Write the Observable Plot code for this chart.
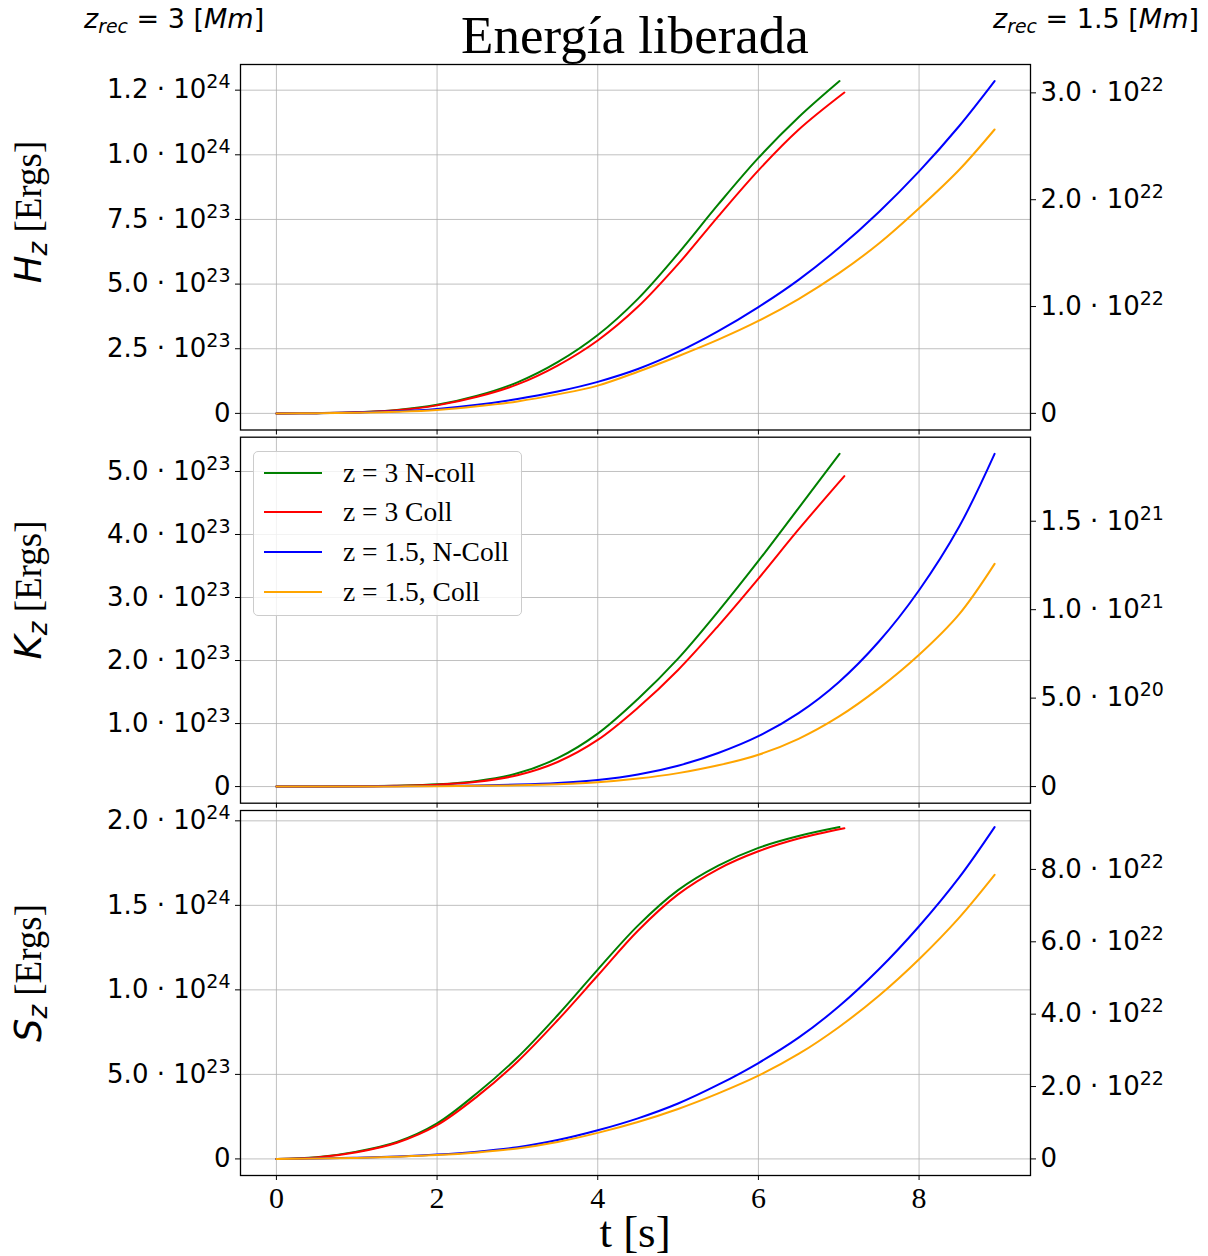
<!DOCTYPE html>
<html>
<head>
<meta charset="utf-8">
<script src="https://cdn.jsdelivr.net/npm/d3@7"></script>
<script src="https://cdn.jsdelivr.net/npm/@observablehq/plot@0.6"></script>
<style>
  body { margin: 0; background: #fff; }
  #root { position: relative; width: 1208px; height: 1256px; overflow: hidden; background: #fff; }
  #root > svg { position: absolute; left: 0; top: 0; }
  .txt { position: absolute; white-space: nowrap; line-height: 1; color: #000; }
  .serif { font-family: "Liberation Serif", "Times New Roman", serif; }
  .sans { font-family: "DejaVu Sans", sans-serif; }
  .ylab { transform: translate(-50%, -50%) rotate(-90deg); }
  #legend { position: absolute; left: 253px; top: 451px; width: 269px; height: 165px;
    border: 1px solid #cccccc; border-radius: 5px; background: rgba(255,255,255,0.8); box-sizing: border-box; }
  .lrow { position: absolute; left: 0; height: 0; }
  .lrow .sw { position: absolute; left: 10px; width: 58px; height: 2px; top: -1px; }
  .lrow .lt { position: absolute; left: 89px; top: -15px; font-family: "Liberation Serif", serif; font-size: 27.5px; line-height: 30px; white-space: nowrap; }
</style>
</head>
<body>
<div id="root"></div>
<script>
// ---------- data ----------
const seriesNames = ["z = 3 N-coll", "z = 3 Coll", "z = 1.5, N-Coll", "z = 1.5, Coll"];
const seriesColors = ["#008000", "#ff0000", "#0000ff", "#ffa500"];

const tGreen = [0, 0.5, 1, 1.5, 2, 2.5, 3, 3.5, 4, 4.5, 5, 5.5, 6, 6.5, 7.01];
const tRed   = [0, 0.5, 1, 1.5, 2, 2.5, 3, 3.5, 4, 4.5, 5, 5.5, 6, 6.5, 7.07];
const tBlue  = [0, 0.5, 1, 1.5, 2, 2.5, 3, 3.5, 4, 4.5, 5, 5.5, 6, 6.5, 7, 7.5, 8, 8.5, 8.94];

// H_z : z=3 in 1e24 erg (left axis), z=1.5 in 1e22 erg (right axis)
const hGreen  = [0, 0.001, 0.004, 0.013, 0.033, 0.068, 0.12, 0.198, 0.303, 0.443, 0.618, 0.808, 0.988, 1.145, 1.285];
const hRed    = [0, 0.001, 0.004, 0.012, 0.031, 0.064, 0.112, 0.185, 0.282, 0.412, 0.577, 0.762, 0.94, 1.097, 1.241];
const hBlue   = [0, 0.002, 0.008, 0.019, 0.041, 0.08, 0.135, 0.205, 0.295, 0.415, 0.575, 0.77, 0.995, 1.25, 1.547, 1.885, 2.265, 2.69, 3.11];
const hOrange = [0, 0.0015, 0.006, 0.015, 0.032, 0.066, 0.112, 0.178, 0.26, 0.39, 0.535, 0.69, 0.865, 1.07, 1.31, 1.59, 1.92, 2.28, 2.657];

// K_z : z=3 in 1e23 erg (left), z=1.5 in 1e21 erg (right)
const kGreen  = [0, 0.001, 0.005, 0.014, 0.035, 0.09, 0.21, 0.45, 0.84, 1.39, 2.03, 2.78, 3.58, 4.42, 5.28];
const kRed    = [0, 0.001, 0.004, 0.012, 0.03, 0.075, 0.18, 0.39, 0.74, 1.25, 1.85, 2.55, 3.30, 4.08, 4.926];
const kBlue   = [0, 0.0002, 0.0005, 0.0015, 0.003, 0.006, 0.011, 0.02, 0.037, 0.068, 0.118, 0.19, 0.285, 0.415, 0.59, 0.82, 1.11, 1.47, 1.881];
const kOrange = [0, 0.0001, 0.0003, 0.001, 0.002, 0.004, 0.007, 0.013, 0.024, 0.045, 0.076, 0.12, 0.18, 0.27, 0.395, 0.555, 0.745, 0.975, 1.259];

// S_z : z=3 in 1e24 erg (left), z=1.5 in 1e22 erg (right)
const sGreen  = [0, 0.01, 0.043, 0.10, 0.21, 0.39, 0.6, 0.85, 1.12, 1.38, 1.59, 1.735, 1.84, 1.91, 1.963];
const sRed    = [0, 0.009, 0.04, 0.096, 0.2, 0.37, 0.575, 0.82, 1.085, 1.35, 1.565, 1.715, 1.82, 1.895, 1.956];
const sBlue   = [0, 0.01, 0.033, 0.068, 0.12, 0.20, 0.32, 0.52, 0.79, 1.12, 1.53, 2.05, 2.65, 3.35, 4.21, 5.24, 6.43, 7.78, 9.17];
const sOrange = [0, 0.008, 0.028, 0.06, 0.105, 0.18, 0.29, 0.47, 0.72, 1.02, 1.38, 1.81, 2.30, 2.90, 3.64, 4.51, 5.52, 6.67, 7.85];

// ticks
const xTicks = [0, 2, 4, 6, 8];
const xTickLabels = ["0", "2", "4", "6", "8"];

const hLeftTicks  = [0, 0.25, 0.5, 0.75, 1.0, 1.25];       // x1e24
const hLeftLabels = ["0", "2.5 · 10²³", "5.0 · 10²³", "7.5 · 10²³", "1.0 · 10²⁴", "1.2 · 10²⁴"];
const hRightTicks  = [0, 1, 2, 3];                           // x1e22
const hRightLabels = ["0", "1.0 · 10²²", "2.0 · 10²²", "3.0 · 10²²"];

const kLeftTicks  = [0, 1, 2, 3, 4, 5];                      // x1e23
const kLeftLabels = ["0", "1.0 · 10²³", "2.0 · 10²³", "3.0 · 10²³", "4.0 · 10²³", "5.0 · 10²³"];
const kRightTicks  = [0, 0.5, 1.0, 1.5];                     // x1e21
const kRightLabels = ["0", "5.0 · 10²⁰", "1.0 · 10²¹", "1.5 · 10²¹"];

const sLeftTicks  = [0, 0.5, 1.0, 1.5, 2.0];                 // x1e24
const sLeftLabels = ["0", "5.0 · 10²³", "1.0 · 10²⁴", "1.5 · 10²⁴", "2.0 · 10²⁴"];
const sRightTicks  = [0, 2, 4, 6, 8];                        // x1e22
const sRightLabels = ["0", "2.0 · 10²²", "4.0 · 10²²", "6.0 · 10²²", "8.0 · 10²²"];

// ---------- drawing ----------
const W = 1208, H = 1256;
const root = document.getElementById("root");
const allT = [...tGreen, ...tRed, ...tBlue];
const tMin = d3.min(allT), tMax = d3.max(allT);
const tPad = 0.05 * (tMax - tMin);
const gridStyle = {stroke: "#b0b0b0", strokeOpacity: 1, strokeWidth: 0.8};
const tickFont = {fontSize: 26, fontFamily: "DejaVu Sans", fill: "black"};
const SUP = {"⁰": "0", "¹": "1", "²": "2", "³": "3", "⁴": "4", "⁵": "5", "⁶": "6", "⁷": "7", "⁸": "8", "⁹": "9"};
const NS = "http://www.w3.org/2000/svg";

function rows(t, v, k = 1) { return t.map((x, i) => ({t: x, v: v[i] * k})); }

// turn trailing unicode superscripts into a raised, smaller tspan (like mathtext)
function raiseExponents(svg) {
  svg.querySelectorAll("text").forEach(el => {
    const s = el.textContent;
    const m = s.match(/^(.*?)([⁰¹²³⁴⁵⁶⁷⁸⁹]+)$/);
    if (!m) return;
    el.textContent = "";
    const a = document.createElementNS(NS, "tspan");
    a.textContent = m[1];
    const b = document.createElementNS(NS, "tspan");
    b.textContent = [...m[2]].map(c => SUP[c]).join("");
    b.setAttribute("font-size", "19");
    b.setAttribute("dy", "-10");
    el.appendChild(a);
    el.appendChild(b);
  });
}

function panel({frameTop, frameBottom, left, right, lt, ll, rt, rl, showX}) {
  const M1 = d3.max(left.flatMap(s => s.v));
  const M2 = d3.max(right.flatMap(s => s.v));
  const k = M1 / M2;                       // right units -> left units (twin axis)
  const rtScaled = rt.map(v => v * k);
  const marks = [
    Plot.gridX(xTicks, gridStyle),
    Plot.gridY(lt, gridStyle),
    ...left.map(s => Plot.line(rows(s.t, s.v), {x: "t", y: "v", stroke: s.color, strokeWidth: 2, curve: "catmull-rom"})),
    ...right.map(s => Plot.line(rows(s.t, s.v, k), {x: "t", y: "v", stroke: s.color, strokeWidth: 2, curve: "catmull-rom"})),
    Plot.frame({stroke: "black", strokeWidth: 1.3}),
    Plot.axisY(lt, {anchor: "left", tickSize: 5, tickPadding: 5, tickFormat: d => ll[lt.indexOf(d)], label: null, ...tickFont}),
    Plot.axisY(rtScaled, {anchor: "right", tickSize: 5, tickPadding: 5, tickFormat: d => rl[rtScaled.indexOf(d)], label: null, ...tickFont}),
    Plot.axisX(xTicks, {anchor: "bottom", tickSize: 5, tickPadding: 6, label: null,
      tickFormat: showX ? (d => xTickLabels[xTicks.indexOf(d)]) : (() => ""),
      fontSize: 30, fontFamily: "Liberation Serif", fill: "black"})
  ];
  const svg = Plot.plot({
    width: W, height: H,
    marginTop: frameTop, marginBottom: H - frameBottom, marginLeft: 240, marginRight: W - 1030,
    x: {domain: [tMin - tPad, tMax + tPad]},
    y: {domain: [-0.05 * M1, 1.05 * M1]},
    style: {background: "none", overflow: "visible"},
    marks
  });
  raiseExponents(svg);
  root.appendChild(svg);
}

const S = (t, v, i) => ({t, v, color: seriesColors[i]});

panel({frameTop: 64, frameBottom: 429.5,
  left: [S(tGreen, hGreen, 0), S(tRed, hRed, 1)], right: [S(tBlue, hBlue, 2), S(tBlue, hOrange, 3)],
  lt: hLeftTicks, ll: hLeftLabels, rt: hRightTicks, rl: hRightLabels, showX: false});
panel({frameTop: 436.7, frameBottom: 802.7,
  left: [S(tGreen, kGreen, 0), S(tRed, kRed, 1)], right: [S(tBlue, kBlue, 2), S(tBlue, kOrange, 3)],
  lt: kLeftTicks, ll: kLeftLabels, rt: kRightTicks, rl: kRightLabels, showX: false});
panel({frameTop: 810, frameBottom: 1175,
  left: [S(tGreen, sGreen, 0), S(tRed, sRed, 1)], right: [S(tBlue, sBlue, 2), S(tBlue, sOrange, 3)],
  lt: sLeftTicks, ll: sLeftLabels, rt: sRightTicks, rl: sRightLabels, showX: true});

// ---------- texts ----------
function addText(html, cls, style) {
  const d = document.createElement("div");
  d.className = "txt " + cls;
  d.innerHTML = html;
  Object.assign(d.style, style);
  root.appendChild(d);
  return d;
}
addText("Energía liberada", "serif", {left: "635px", top: "9px", fontSize: "53px", transform: "translateX(-50%)"});
addText('<i>z</i><sub style="font-size:70%;font-style:italic;vertical-align:-0.25em">rec</sub> = 3 [<i>Mm</i>]', "sans",
  {left: "84px", top: "5px", fontSize: "27px"});
addText('<i>z</i><sub style="font-size:70%;font-style:italic;vertical-align:-0.25em">rec</sub> = 1.5 [<i>Mm</i>]', "sans",
  {right: "9px", top: "5px", fontSize: "27px"});
addText("t [s]", "serif", {left: "635px", top: "1210px", fontSize: "45px", transform: "translateX(-50%)"});

const ylabels = [["H", 212], ["K", 590], ["S", 973]];
for (const [sym, cy] of ylabels) {
  addText(`<span class="sans" style="font-style:italic">${sym}</span><sub class="sans" style="font-size:70%;font-style:italic;vertical-align:-0.2em">z</sub> <span class="serif">[Ergs]</span>`,
    "ylab", {left: "31px", top: cy + "px", fontSize: "37px"});
}

// legend
const lg = document.createElement("div");
lg.id = "legend";
const rowY = [21, 60, 100, 140];
seriesNames.forEach((name, i) => {
  const r = document.createElement("div");
  r.className = "lrow";
  r.style.top = rowY[i] + "px";
  r.innerHTML = `<div class="sw" style="background:${seriesColors[i]}"></div><div class="lt">${name}</div>`;
  lg.appendChild(r);
});
root.appendChild(lg);
</script>
</body>
</html>
